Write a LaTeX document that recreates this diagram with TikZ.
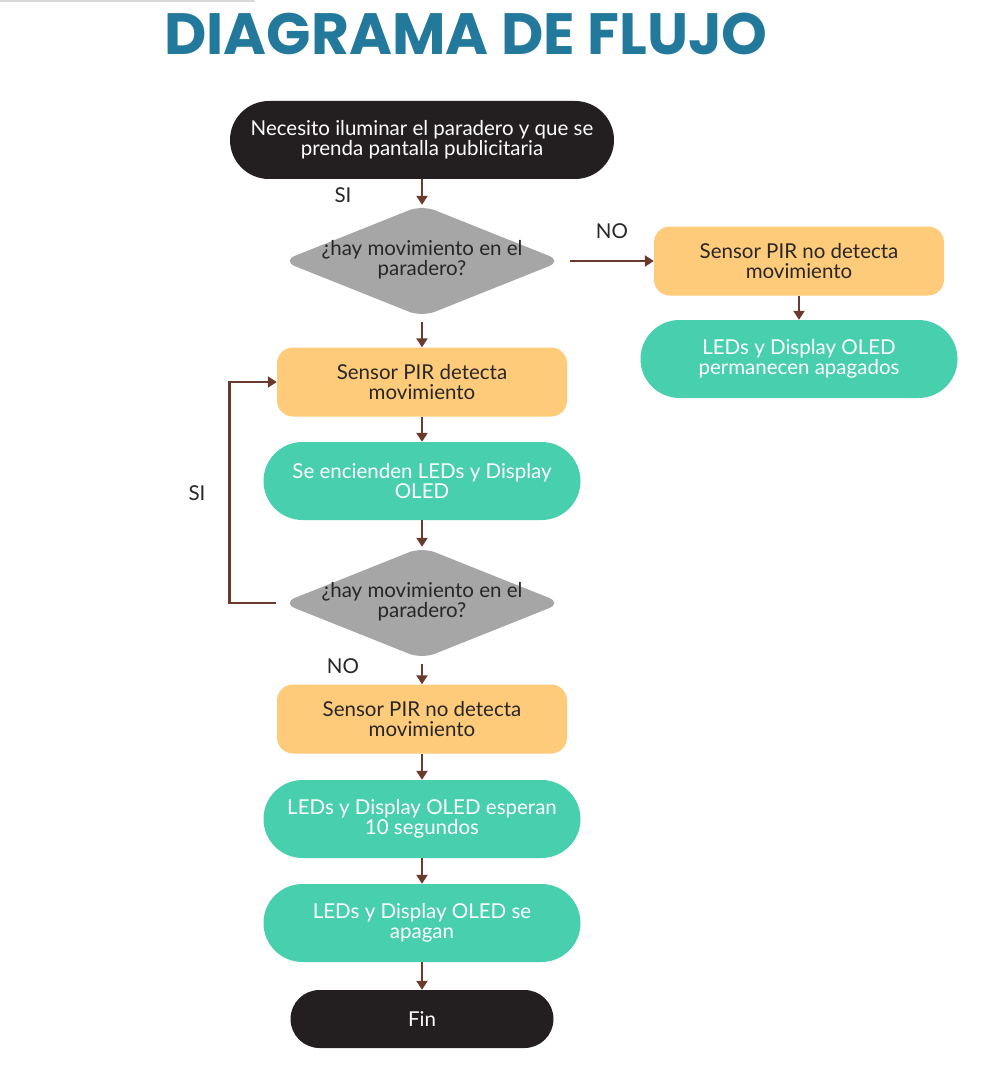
\documentclass[tikz,border=0pt]{standalone}
\usepackage{fontspec}
\setmainfont{Lato}
\newfontfamily\titlefont{Poppins}
\usepackage{graphicx}
\usetikzlibrary{arrows.meta, shapes.geometric}
\definecolor{inkblack}{RGB}{35,31,32}
\definecolor{decgray}{RGB}{166,166,166}
\definecolor{pirorange}{RGB}{254,203,122}
\definecolor{ledgreen}{RGB}{72,207,174}
\definecolor{arrowbrown}{RGB}{107,58,46}
\definecolor{titleblue}{RGB}{34,121,155}
\definecolor{textdark}{RGB}{40,38,40}

\begin{document}
\begin{tikzpicture}[x=1pt, y=-1pt,
    every node/.style={font=\fontsize{20.5}{20}\selectfont, align=center, inner sep=0pt},
    terminal/.style={fill=inkblack, text=white, rounded corners=39pt, minimum width=384pt, minimum height=78pt},
    decision/.style={diamond, fill=decgray, rounded corners=14pt, minimum width=280pt, minimum height=112pt},
    sensor/.style={fill=pirorange, text=textdark, rounded corners=16pt, minimum width=290pt, minimum height=69pt},
    action/.style={fill=ledgreen, text=white, rounded corners=39pt, minimum width=317pt, minimum height=78pt},
    arr/.style={draw=arrowbrown, line width=2.8pt, -{Triangle[length=9pt, width=11pt]}},
    lbl/.style={text=textdark}]
    \useasboundingbox (0,0) rectangle (999,1078);
    \draw[black!15, line width=2pt] (0,1) -- (255,1);
    \node[text=titleblue] (title) at (466,34) {\titlefont\bfseries\resizebox{603pt}{!}{DIAGRAMA DE FLUJO}};

    \node[terminal] (start) at (422,140) {Necesito iluminar el paradero y que se\\prenda pantalla publicitaria};
    \node[decision] (q1) at (422,261) {};
    \node[text=textdark] (q1t) at ([yshift=1pt]q1) {¿hay movimiento en el\\paradero?};
    \node[sensor] (nodet) at (799,261) {Sensor PIR no detecta\\movimiento};
    \node[action] (off) at (799,359) {LEDs y Display OLED\\permanecen apagados};
    \node[sensor] (det) at (422,382) {Sensor PIR detecta\\movimiento};
    \node[action] (on) at (422,481) {Se encienden LEDs y Display\\OLED};
    \node[decision] (q2) at (422,603) {};
    \node[text=textdark] (q2t) at ([yshift=1pt]q2) {¿hay movimiento en el\\paradero?};
    \node[sensor] (nodet2) at (422,719) {Sensor PIR no detecta\\movimiento};
    \node[action] (wait) at (422,819) {LEDs y Display OLED esperan\\10 segundos};
    \node[action] (shut) at (422,923) {LEDs y Display OLED se\\apagan};
    \node[terminal, minimum width=263pt, minimum height=58pt, rounded corners=29pt] (fin) at (422,1019) {Fin};

    \draw[arr] (start) -- (q1);
    \draw[arr, shorten <=8pt] (q1.east) -- (nodet.west);
    \draw[arr] (nodet) -- (off);
    \draw[arr, shorten <=5pt] (q1) -- (det);
    \draw[arr] (det) -- (on);
    \draw[arr] (on) -- (q2);
    \draw[arr, shorten <=6pt] (q2.west) -- ++(-52,0) |- (det.west);
    \draw[arr, shorten <=5pt] (q2) -- (nodet2);
    \draw[arr] (nodet2) -- (wait);
    \draw[arr] (wait) -- (shut);
    \draw[arr] (shut) -- (fin);

    \node[lbl] (si1) at (343,195) {SI};
    \node[lbl] (no1) at (612,231) {NO};
    \node[lbl] (si2) at (197,493) {SI};
    \node[lbl] (no2) at (343,666) {NO};
\end{tikzpicture}
\end{document}
